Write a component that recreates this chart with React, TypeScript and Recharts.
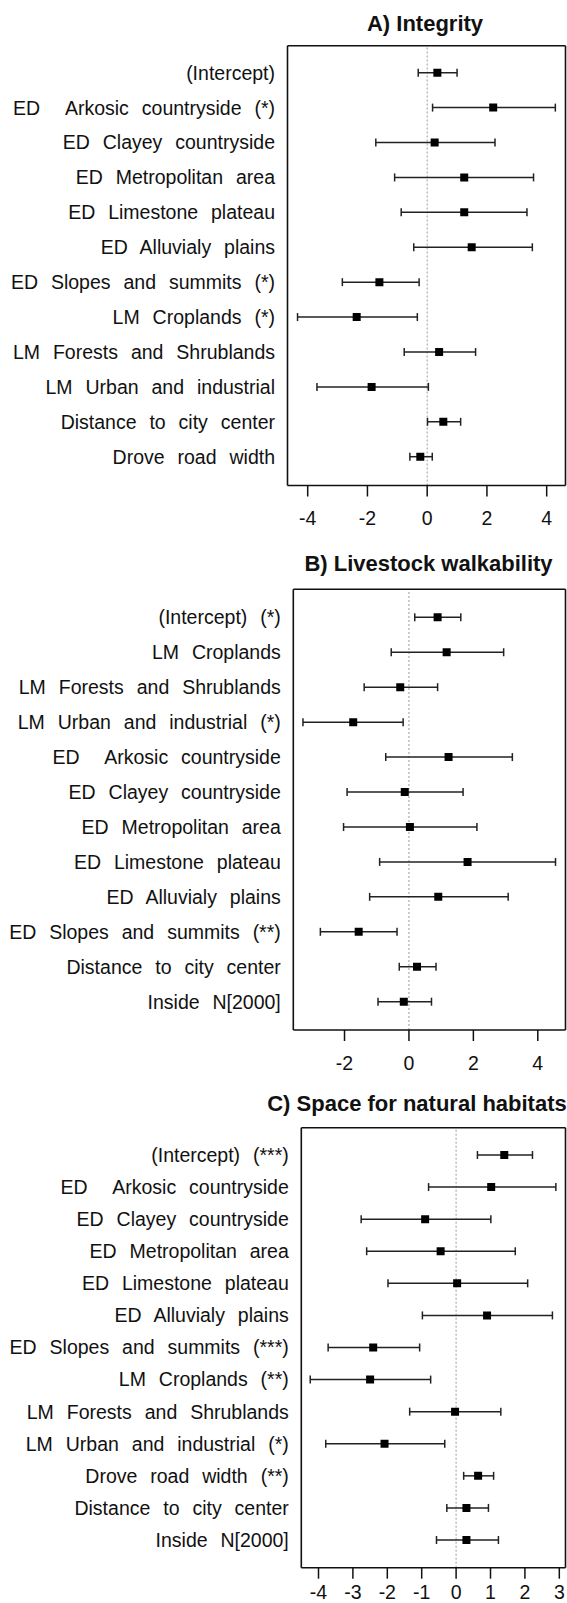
import React from "react";
import {
  ErrorBar,
  ReferenceLine,
  Scatter,
  ScatterChart,
  XAxis,
  YAxis,
  ZAxis,
} from "recharts";

const FONT = "'Liberation Sans', Arial, Helvetica, sans-serif";
const INK = "#111";
const W = 567;

// A) Integrity
const A_LABELS = [
  "(Intercept)",
  "ED  Arkosic countryside (*)",
  "ED Clayey countryside",
  "ED Metropolitan area",
  "ED Limestone plateau",
  "ED Alluvialy plains",
  "ED Slopes and summits (*)",
  "LM Croplands (*)",
  "LM Forests and Shrublands",
  "LM Urban and industrial",
  "Distance to city center",
  "Drove road width",
];
const A_EST = [0.34, 2.21, 0.25, 1.24, 1.24, 1.49, -1.6, -2.36, 0.4, -1.86, 0.54, -0.23];
const A_LOW = [-0.3, 0.18, -1.72, -1.09, -0.87, -0.45, -2.84, -4.34, -0.77, -3.69, 0.01, -0.58];
const A_HIGH = [1.0, 4.29, 2.27, 3.56, 3.34, 3.52, -0.27, -0.33, 1.62, 0.04, 1.12, 0.17];
const A_TICKS = [-4, -2, 0, 2, 4];

// B) Livestock walkability
const B_LABELS = [
  "(Intercept) (*)",
  "LM Croplands",
  "LM Forests and Shrublands",
  "LM Urban and industrial (*)",
  "ED  Arkosic countryside",
  "ED Clayey countryside",
  "ED Metropolitan area",
  "ED Limestone plateau",
  "ED Alluvialy plains",
  "ED Slopes and summits (**)",
  "Distance to city center",
  "Inside N[2000]",
];
const B_EST = [0.89, 1.17, -0.27, -1.73, 1.23, -0.13, 0.03, 1.82, 0.91, -1.56, 0.25, -0.16];
const B_LOW = [0.18, -0.55, -1.39, -3.29, -0.72, -1.92, -2.03, -0.91, -1.22, -2.75, -0.3, -0.96];
const B_HIGH = [1.61, 2.94, 0.89, -0.18, 3.21, 1.68, 2.11, 4.55, 3.08, -0.37, 0.84, 0.7];
const B_TICKS = [-2, 0, 2, 4];

// C) Space for natural habitats
const C_LABELS = [
  "(Intercept) (***)",
  "ED  Arkosic countryside",
  "ED Clayey countryside",
  "ED Metropolitan area",
  "ED Limestone plateau",
  "ED Alluvialy plains",
  "ED Slopes and summits (***)",
  "LM Croplands (**)",
  "LM Forests and Shrublands",
  "LM Urban and industrial (*)",
  "Drove road width (**)",
  "Distance to city center",
  "Inside N[2000]",
];
const C_EST = [1.4, 1.02, -0.9, -0.45, 0.03, 0.9, -2.41, -2.5, -0.03, -2.08, 0.64, 0.3, 0.3];
const C_LOW = [0.62, -0.8, -2.76, -2.6, -1.98, -0.98, -3.72, -4.24, -1.35, -3.79, 0.22, -0.27, -0.57];
const C_HIGH = [2.22, 2.9, 1.01, 1.72, 2.08, 2.8, -1.06, -0.74, 1.3, -0.33, 1.09, 0.94, 1.23];
const C_TICKS = [-4, -3, -2, -1, 0, 1, 2, 3];

function LabelTick(props: any) {
  const { x, y, payload } = props;
  return (
    <text
      x={x}
      y={y}
      dy={6.9}
      textAnchor="end"
      fontSize={19.5}
      fontFamily={FONT}
      fill={INK}
      style={{ whiteSpace: "pre", wordSpacing: "7.5px" }}
    >
      {payload.value}
    </text>
  );
}

interface PanelProps {
  title: string;
  labels: string[];
  est: number[];
  low: number[];
  high: number[];
  ticks: number[];
  domain: [number, number];
  top: number;
  height: number;
  boxLeft: number;
  boxTop: number;
  boxBottom: number;
  firstRow: number;
  lastRow: number;
  titleX: number;
  titleY: number;
  tickGap: number;
}

function Panel(p: PanelProps) {
  const rows = p.labels.map((name, i) => ({
    name,
    est: p.est[i],
    err: [p.est[i] - p.low[i], p.high[i] - p.est[i]],
  }));
  const boxRight = 565.5;
  const xAxisH = 40;
  const frame = { stroke: INK, strokeWidth: 1.6 };

  return (
    <div style={{ position: "absolute", left: 0, top: p.top, width: W, height: p.height }}>
      <ScatterChart
        width={W}
        height={p.height}
        margin={{
          top: p.boxTop - 1,
          right: W - boxRight - 1,
          bottom: p.height - p.boxBottom - xAxisH,
          left: 0,
        }}
      >
        <XAxis
          type="number"
          dataKey="est"
          domain={p.domain}
          ticks={p.ticks}
          interval={0}
          allowDataOverflow
          height={xAxisH}
          tickSize={11}
          tickMargin={p.tickGap}
          axisLine={frame}
          tickLine={{ stroke: INK, strokeWidth: 1.5 }}
          tick={{ fontSize: 19.5, fill: INK, fontFamily: FONT }}
        />
        {/* top and right axes only close the frame */}
        <XAxis
          xAxisId="top"
          orientation="top"
          type="number"
          domain={p.domain}
          allowDataOverflow
          height={1}
          tick={false}
          tickLine={false}
          axisLine={frame}
        />
        <YAxis
          type="category"
          dataKey="name"
          scale="point"
          reversed
          interval={0}
          width={p.boxLeft}
          padding={{ top: p.firstRow - p.boxTop, bottom: p.boxBottom - p.lastRow }}
          tickSize={0}
          tickMargin={12.5}
          tickLine={false}
          axisLine={frame}
          tick={(t: any) => <LabelTick {...t} />}
        />
        <YAxis
          yAxisId="right"
          orientation="right"
          type="number"
          domain={[0, 1]}
          width={1}
          tick={false}
          tickLine={false}
          axisLine={frame}
        />
        <ZAxis range={[72, 72]} />
        <ReferenceLine x={0} stroke="#9a9a9a" strokeWidth={1} strokeDasharray="2 2" />
        <Scatter data={rows} shape="square" fill="#000" isAnimationActive={false}>
          <ErrorBar
            dataKey="err"
            direction="x"
            width={4}
            stroke="#222"
            strokeWidth={1.5}
            isAnimationActive={false}
          />
        </Scatter>
      </ScatterChart>
      <div
        style={{
          position: "absolute",
          left: p.titleX - 250,
          width: 500,
          top: p.titleY - 12.5,
          textAlign: "center",
          fontFamily: FONT,
          fontWeight: "bold",
          fontSize: 22,
          lineHeight: "25px",
          color: INK,
          whiteSpace: "nowrap",
        }}
      >
        {p.title}
      </div>
    </div>
  );
}

export default function App() {
  return (
    <div
      style={{
        position: "absolute",
        left: 0,
        top: 0,
        width: W,
        height: 1603,
        background: "#fff",
        overflow: "hidden",
      }}
    >
      <Panel
        title="A) Integrity"
        labels={A_LABELS}
        est={A_EST}
        low={A_LOW}
        high={A_HIGH}
        ticks={A_TICKS}
        domain={[-4.676, 4.63]}
        top={0}
        height={540}
        boxLeft={287.5}
        boxTop={45.7}
        boxBottom={485.5}
        firstRow={72.7}
        lastRow={456.7}
        titleX={425}
        titleY={23.3}
        tickGap={14.6}
      />
      <Panel
        title="B) Livestock walkability"
        labels={B_LABELS}
        est={B_EST}
        low={B_LOW}
        high={B_HIGH}
        ticks={B_TICKS}
        domain={[-3.59, 4.86]}
        top={540}
        height={540}
        boxLeft={293.3}
        boxTop={49.3}
        boxBottom={490}
        firstRow={77.3}
        lastRow={461.7}
        titleX={428.5}
        titleY={23.3}
        tickGap={15.5}
      />
      <Panel
        title="C) Space for natural habitats"
        labels={C_LABELS}
        est={C_EST}
        low={C_LOW}
        high={C_HIGH}
        ticks={C_TICKS}
        domain={[-4.5, 3.18]}
        top={1080}
        height={523}
        boxLeft={301.3}
        boxTop={47.7}
        boxBottom={487.7}
        firstRow={75}
        lastRow={460}
        titleX={417}
        titleY={23.3}
        tickGap={6.8}
      />
    </div>
  );
}
